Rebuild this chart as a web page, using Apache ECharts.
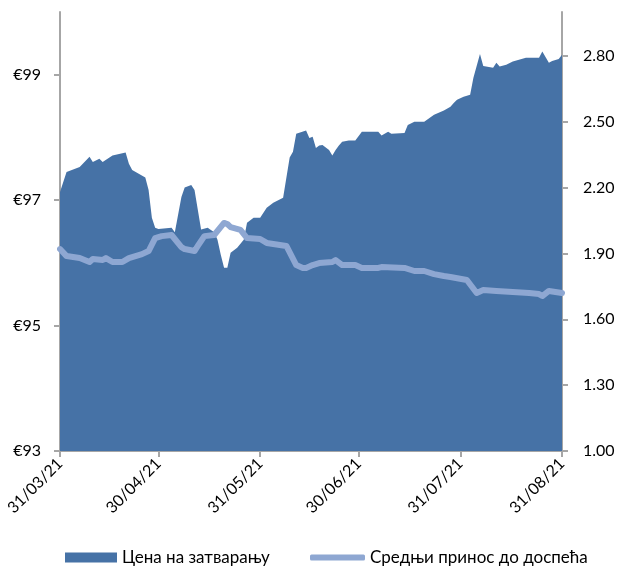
<!DOCTYPE html>
<html>
<head>
<meta charset="utf-8">
<script src="https://cdn.jsdelivr.net/npm/echarts@6/dist/echarts.min.js"></script>
<style>html,body{margin:0;padding:0;background:#fff}#c{width:618px;height:567px}</style>
</head>
<body>
<div id="c"></div>
<script>
const priceDates = ['2021-03-31','2021-04-02','2021-04-06','2021-04-09','2021-04-10','2021-04-12','2021-04-13','2021-04-16','2021-04-20','2021-04-21','2021-04-22','2021-04-26','2021-04-27','2021-04-28','2021-04-29','2021-04-30','2021-05-04','2021-05-05','2021-05-07','2021-05-08','2021-05-10','2021-05-11','2021-05-13','2021-05-15','2021-05-17','2021-05-18','2021-05-19','2021-05-20','2021-05-21','2021-05-22','2021-05-24','2021-05-26','2021-05-27','2021-05-29','2021-05-31','2021-06-02','2021-06-04','2021-06-07','2021-06-09','2021-06-10','2021-06-11','2021-06-14','2021-06-15','2021-06-16','2021-06-17','2021-06-18','2021-06-19','2021-06-21','2021-06-22','2021-06-23','2021-06-24','2021-06-25','2021-06-27','2021-06-29','2021-07-01','2021-07-06','2021-07-07','2021-07-09','2021-07-10','2021-07-14','2021-07-15','2021-07-17','2021-07-20','2021-07-23','2021-07-26','2021-07-28','2021-07-29','2021-07-30','2021-08-01','2021-08-03','2021-08-04','2021-08-06','2021-08-07','2021-08-10','2021-08-11','2021-08-12','2021-08-14','2021-08-16','2021-08-20','2021-08-24','2021-08-25','2021-08-27','2021-08-28','2021-08-30','2021-08-31'];
const priceValues = [97.13,97.45,97.53,97.69,97.61,97.66,97.61,97.71,97.76,97.58,97.48,97.36,97.16,96.72,96.56,96.54,96.56,96.49,97.05,97.20,97.24,97.16,96.53,96.56,96.49,96.37,96.13,95.92,95.92,96.16,96.24,96.37,96.64,96.72,96.72,96.88,96.96,97.04,97.68,97.77,98.06,98.11,97.99,98.01,97.83,97.87,97.88,97.80,97.71,97.80,97.87,97.93,97.95,97.95,98.09,98.09,98.03,98.09,98.06,98.07,98.20,98.25,98.25,98.36,98.43,98.49,98.55,98.60,98.65,98.68,98.95,99.33,99.14,99.11,99.19,99.13,99.16,99.21,99.27,99.27,99.37,99.19,99.22,99.25,99.32];

const yieldDates = ['2021-03-31','2021-04-02','2021-04-06','2021-04-09','2021-04-10','2021-04-13','2021-04-14','2021-04-16','2021-04-19','2021-04-21','2021-04-25','2021-04-27','2021-04-29','2021-05-01','2021-05-04','2021-05-07','2021-05-08','2021-05-11','2021-05-12','2021-05-14','2021-05-17','2021-05-20','2021-05-21','2021-05-22','2021-05-25','2021-05-27','2021-05-31','2021-06-02','2021-06-08','2021-06-11','2021-06-13','2021-06-14','2021-06-16','2021-06-18','2021-06-22','2021-06-23','2021-06-25','2021-06-29','2021-07-01','2021-07-06','2021-07-07','2021-07-14','2021-07-17','2021-07-20','2021-07-23','2021-07-26','2021-07-28','2021-08-02','2021-08-05','2021-08-07','2021-08-11','2021-08-16','2021-08-21','2021-08-24','2021-08-25','2021-08-27','2021-08-31'];
const yieldValues = [1.92,1.888,1.879,1.861,1.875,1.870,1.879,1.861,1.861,1.879,1.897,1.911,1.970,1.979,1.984,1.929,1.920,1.911,1.934,1.979,1.984,2.039,2.034,2.020,2.007,1.970,1.966,1.948,1.934,1.847,1.834,1.834,1.847,1.856,1.861,1.870,1.847,1.847,1.834,1.834,1.838,1.834,1.820,1.820,1.806,1.797,1.793,1.779,1.720,1.733,1.729,1.724,1.720,1.715,1.706,1.729,1.720];

const xTickDates = ['2021-03-31','2021-04-30','2021-05-31','2021-06-30','2021-07-31','2021-08-31'];
const leftTicks = [93, 95, 97, 99];
const rightTicks = [1.00, 1.30, 1.60, 1.90, 2.20, 2.50, 2.80];
const seriesNames = ['Цена на затварању', 'Средњи принос до доспећа'];

const FONT = 'Lato';
const axisGray = '#a6a6a6';
const areaColor = '#4672a6';
const lineColor = '#8ea7d2';
const toTs = d => Date.UTC(+d.slice(0,4), +d.slice(5,7)-1, +d.slice(8,10));
const pad = n => (n < 10 ? '0' : '') + n;
const fmtDate = v => { const d = new Date(v); return pad(d.getUTCDate()) + '/' + pad(d.getUTCMonth()+1) + '/' + String(d.getUTCFullYear()).slice(2); };

const chart = echarts.init(document.getElementById('c'), null, {renderer: 'canvas'});
chart.setOption({
  animation: false,
  backgroundColor: '#fff',
  grid: {left: 60, right: 56, top: 12, bottom: 116, containLabel: false},
  legend: [{
    top: 549, left: 65, padding: 0,
    itemWidth: 52, itemHeight: 10, itemGap: 38,
    textStyle: {fontFamily: FONT, fontSize: 17, color: '#000'},
    data: [{name: seriesNames[0], icon: 'rect'}]
  }, {
    top: 549, left: 310, padding: 0,
    itemWidth: 55, itemHeight: 6, itemGap: 4,
    textStyle: {fontFamily: FONT, fontSize: 17, color: '#000'},
    data: [{name: seriesNames[1], icon: 'roundRect', itemStyle: {color: lineColor}}]
  }],
  xAxis: {
    type: 'value',
    min: toTs(xTickDates[0]), max: toTs(xTickDates[xTickDates.length-1]),
    axisLine: {show: true, onZero: false, lineStyle: {color: axisGray, width: 2}},
    axisTick: {show: true, length: 6, lineStyle: {color: axisGray, width: 2}, customValues: xTickDates.map(toTs)},
    axisLabel: {
      customValues: xTickDates.map(toTs), rotate: 45, margin: 10,
      fontFamily: FONT, fontSize: 16, color: '#000',
      formatter: v => fmtDate(v)
    },
    splitLine: {show: false}
  },
  yAxis: [{
    type: 'value', min: 93, max: 100,
    axisLine: {show: true, lineStyle: {color: axisGray, width: 2}},
    axisTick: {show: true, length: 6, lineStyle: {color: axisGray, width: 2}, customValues: leftTicks},
    axisLabel: {customValues: leftTicks, margin: 19, fontFamily: FONT, fontSize: 16, color: '#000', formatter: v => '€' + v},
    splitLine: {show: false}
  }, {
    type: 'value', min: 1, max: 3, position: 'right',
    axisLine: {show: true, lineStyle: {color: axisGray, width: 2}},
    axisTick: {show: true, length: 6, lineStyle: {color: axisGray, width: 2}, customValues: rightTicks},
    axisLabel: {customValues: rightTicks, margin: 21, fontFamily: FONT, fontSize: 16, color: '#000', formatter: v => v.toFixed(2)},
    splitLine: {show: false}
  }],
  series: [{
    name: seriesNames[0], type: 'line', yAxisIndex: 0,
    data: priceDates.map((d, i) => [toTs(d), priceValues[i]]),
    symbol: 'none', showSymbol: false,
    itemStyle: {color: areaColor},
    lineStyle: {width: 0, color: areaColor},
    areaStyle: {color: areaColor, opacity: 1, origin: 'start'},
    z: 1
  }, {
    name: seriesNames[1], type: 'line', yAxisIndex: 1,
    data: yieldDates.map((d, i) => [toTs(d), yieldValues[i]]),
    symbol: 'none', showSymbol: false,
    itemStyle: {color: lineColor},
    lineStyle: {width: 6, color: lineColor, cap: 'round', join: 'round'},
    z: 3
  }]
});
</script>
</body>
</html>
